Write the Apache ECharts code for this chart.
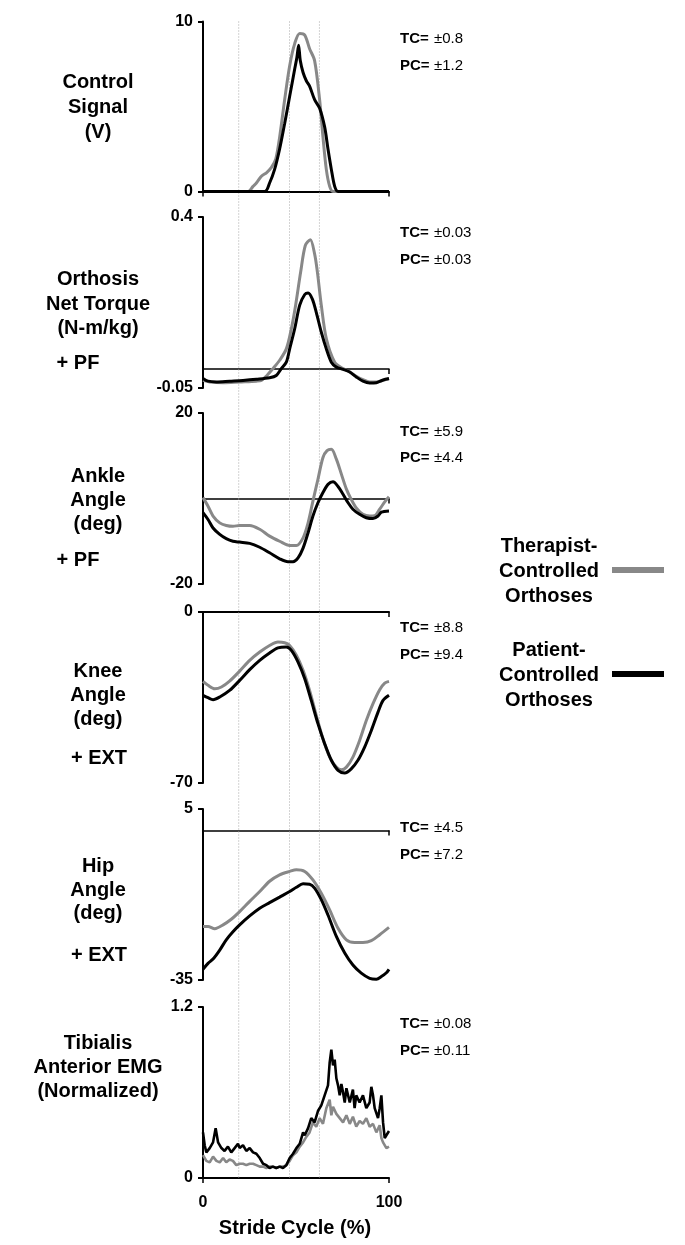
<!DOCTYPE html>
<html>
<head>
<meta charset="utf-8">
<script src="https://cdn.jsdelivr.net/npm/echarts@6/dist/echarts.min.js"></script>
<style>
html,body{margin:0;padding:0;background:#fff;}
#chart{width:685px;height:1245px;}
</style>
</head>
<body>
<div id="chart"></div>
<script>
// ---------- DATA (x = % stride cycle, y = value) ----------
const ctrlTC = [[0,0],[20,0],[24.2,0],[26.9,0.3],[28.7,0.5],[31.4,0.9],[34.1,1.1],[36.7,1.4],[39.1,1.9],[41.2,3.2],[43.9,5.4],[46.6,7.4],[49.3,8.7],[52.0,9.3],[54.7,9.2],[57.3,8.4],[60.0,7.7],[62.7,5.4],[64.5,3.2],[66.3,1.3],[68.1,0.3],[69.9,0],[100,0]];
const ctrlPC = [[0,0],[33.2,0],[35.8,0.5],[38.5,1.3],[41.2,2.5],[43.9,4.0],[46.6,5.6],[49.3,7.2],[50.5,7.9],[51.4,8.6],[52.3,7.7],[53.8,7.0],[55.6,6.5],[57.3,6.2],[60.0,5.4],[62.7,4.9],[65.4,3.8],[67.2,2.5],[69.0,1.3],[70.8,0.3],[72.6,0],[100,0]];

const torqTC = [[0,-0.03],[3.6,-0.034],[10.8,-0.036],[19.7,-0.034],[28.7,-0.032],[31.4,-0.03],[34.4,-0.017],[37.6,0.001],[41.2,0.023],[44.8,0.053],[47.5,0.106],[49.8,0.168],[52.5,0.255],[55.0,0.325],[57.7,0.34],[60.0,0.303],[61.5,0.255],[63.6,0.168],[66.3,0.08],[70.8,0.018],[75.3,0.001],[78.9,-0.008],[82.4,-0.019],[86.0,-0.028],[89.6,-0.034],[93.2,-0.034],[96.8,-0.03],[100,-0.026]];
const torqPC = [[0,-0.025],[2.7,-0.032],[7.2,-0.034],[14.3,-0.032],[21.5,-0.03],[28.7,-0.027],[35.8,-0.023],[39.4,-0.017],[42.1,0.001],[44.8,0.018],[46.6,0.053],[49.3,0.106],[52.0,0.168],[54.7,0.196],[56.5,0.2],[58.8,0.184],[60.9,0.149],[63.6,0.097],[66.3,0.053],[69.0,0.018],[71.7,0.005],[75.3,-0.001],[78.9,-0.008],[82.4,-0.021],[86.0,-0.032],[89.6,-0.037],[93.2,-0.036],[96.8,-0.029],[100,-0.025]];

const ankTC = [[0,0.2],[2.7,-1.8],[5.4,-4.1],[9.0,-5.7],[12.5,-6.3],[16.1,-6.5],[19.7,-6.3],[25.1,-6.3],[30.5,-7.2],[35.8,-8.8],[41.2,-10.0],[46.6,-11.0],[50.2,-11.0],[53.8,-9.2],[56.5,-5.7],[59.1,-0.6],[61.8,4.5],[64.5,9.6],[66.7,11.2],[69.0,11.5],[71.7,9.2],[74.4,5.7],[77.1,2.2],[79.7,-0.2],[82.4,-2.2],[86.0,-3.7],[89.6,-4.1],[92.3,-4.0],[95.0,-2.5],[97.7,-0.8],[100,0.4]];
const ankPC = [[0,-3.3],[2.7,-4.9],[5.4,-6.9],[9.0,-8.4],[12.5,-9.4],[16.1,-10.0],[19.7,-10.2],[25.1,-10.5],[30.5,-11.4],[35.8,-12.7],[41.2,-14.1],[45.7,-14.8],[48.4,-14.8],[51.1,-13.9],[53.8,-11.6],[56.5,-8.0],[59.1,-4.1],[61.8,-1.0],[64.5,1.4],[67.2,3.3],[69.9,3.9],[72.6,2.8],[75.3,1.0],[78.0,-1.0],[80.6,-2.5],[84.2,-3.7],[87.8,-4.5],[91.4,-4.7],[94.1,-4.1],[95.9,-3.2],[100,-2.9]];

const kneeTC = [[0,-28.4],[2.7,-30.0],[6.3,-31.4],[9.9,-30.7],[14.3,-28.3],[19.7,-24.2],[25.1,-19.8],[30.5,-16.4],[35.8,-13.7],[40.3,-12.3],[43.9,-12.6],[46.6,-13.7],[50.2,-17.7],[53.8,-23.9],[57.3,-32.1],[60.9,-42.3],[64.5,-51.9],[68.1,-59.4],[71.7,-63.5],[74.4,-64.6],[77.1,-63.5],[80.6,-59.4],[84.2,-52.6],[87.8,-44.4],[91.4,-37.5],[95.0,-31.8],[97.7,-29.1],[100,-28.4]];
const kneePC = [[0,-34.1],[2.7,-35.1],[5.4,-35.9],[9.0,-34.8],[14.3,-32.1],[19.7,-28.0],[25.1,-23.6],[30.5,-19.8],[35.8,-16.8],[40.3,-14.7],[44.8,-14.3],[47.5,-15.7],[51.1,-20.5],[54.7,-27.3],[58.2,-36.2],[61.8,-45.7],[65.4,-53.9],[69.0,-60.7],[72.6,-64.8],[76.2,-65.9],[79.7,-64.2],[83.3,-60.7],[86.9,-55.3],[90.5,-48.5],[94.1,-41.0],[96.8,-36.2],[100,-34.1]];

const hipTC = [[0,-22.5],[2.7,-22.5],[6.3,-23.0],[10.8,-22.1],[15.2,-20.8],[19.7,-19.0],[25.1,-16.6],[30.5,-14.3],[35.8,-11.9],[41.2,-10.4],[46.6,-9.6],[50.2,-9.2],[54.7,-9.6],[59.1,-11.6],[63.6,-14.7],[68.1,-18.6],[72.6,-22.9],[77.1,-25.6],[81.5,-26.2],[86.0,-26.2],[90.5,-25.8],[95.0,-24.4],[100,-22.7]];
const hipPC = [[0,-32.5],[2.7,-31.1],[5.4,-30.1],[9.0,-28.0],[12.5,-25.6],[16.1,-23.7],[19.7,-22.1],[25.1,-20.0],[30.5,-18.2],[35.8,-16.9],[41.2,-15.6],[46.6,-14.3],[50.2,-13.3],[53.8,-12.5],[57.3,-12.6],[60.0,-13.5],[63.6,-16.2],[67.2,-19.8],[71.7,-24.8],[76.2,-28.7],[80.6,-31.5],[85.1,-33.4],[89.6,-34.6],[93.2,-34.8],[95.9,-34.2],[98.6,-33.3],[100,-32.5]];

const emgTC = [[0,0.16],[1.8,0.12],[3.6,0.11],[5.4,0.15],[7.2,0.12],[9.0,0.11],[10.8,0.14],[12.5,0.11],[14.3,0.13],[16.1,0.12],[17.9,0.09],[19.7,0.10],[21.5,0.10],[23.3,0.09],[25.1,0.10],[26.9,0.10],[28.7,0.09],[30.5,0.08],[32.3,0.08],[34.1,0.07],[35.8,0.08],[37.6,0.08],[39.4,0.07],[41.2,0.08],[43.0,0.08],[44.8,0.09],[46.6,0.12],[48.4,0.16],[50.2,0.18],[52.0,0.22],[53.8,0.25],[55.6,0.29],[57.3,0.32],[59.1,0.39],[60.9,0.36],[62.7,0.42],[64.5,0.38],[66.3,0.49],[68.1,0.55],[69.0,0.44],[69.9,0.50],[71.7,0.45],[73.5,0.42],[75.3,0.39],[77.1,0.44],[78.9,0.38],[80.6,0.43],[82.4,0.36],[84.2,0.40],[86.0,0.38],[87.8,0.42],[89.6,0.36],[91.4,0.38],[93.2,0.32],[95.0,0.37],[95.9,0.28],[96.8,0.25],[98.6,0.21],[100,0.22]];
const emgPC = [[0,0.32],[0.9,0.23],[1.8,0.18],[3.6,0.21],[5.4,0.25],[6.8,0.35],[8.1,0.25],[9.9,0.21],[11.6,0.19],[13.4,0.22],[15.2,0.18],[17.0,0.21],[18.8,0.24],[19.7,0.21],[21.5,0.23],[23.3,0.19],[25.1,0.21],[26.9,0.18],[28.7,0.17],[30.5,0.14],[32.3,0.10],[34.1,0.09],[35.8,0.07],[37.6,0.08],[39.4,0.07],[41.2,0.08],[43.0,0.07],[44.8,0.09],[46.6,0.14],[48.4,0.17],[50.2,0.21],[52.0,0.24],[53.8,0.32],[54.7,0.30],[56.5,0.35],[58.2,0.42],[60.0,0.39],[61.8,0.47],[63.6,0.51],[65.4,0.58],[67.2,0.65],[68.1,0.81],[69.0,0.90],[69.9,0.79],[70.8,0.83],[71.7,0.70],[72.6,0.65],[73.5,0.58],[74.4,0.66],[75.3,0.60],[76.2,0.53],[77.1,0.63],[78.9,0.53],[80.6,0.62],[81.5,0.49],[82.4,0.58],[84.2,0.53],[86.0,0.58],[87.8,0.49],[89.6,0.53],[90.5,0.64],[91.4,0.58],[92.3,0.49],[94.1,0.42],[95.0,0.49],[95.9,0.58],[96.8,0.39],[97.7,0.28],[98.6,0.30],[100,0.33]];

const yMins = [0, -0.05, -20, -70, -35, 0];
const yMaxs = [10, 0.4, 20, 0, 5, 1.2];
const tcNotes = ['±0.8','±0.03','±5.9','±8.8','±4.5','±0.08'];
const pcNotes = ['±1.2','±0.03','±4.4','±9.4','±7.2','±0.11'];
const phaseLines = [19.2, 46.5, 62.6];
const titles = [
  ['Control','Signal','(V)'],
  ['Orthosis','Net Torque','(N-m/kg)','+ PF'],
  ['Ankle','Angle','(deg)','+ PF'],
  ['Knee','Angle','(deg)','+ EXT'],
  ['Hip','Angle','(deg)','+ EXT'],
  ['Tibialis','Anterior EMG','(Normalized)']
];
const xTicks = [0, 100];
const xTitle = 'Stride Cycle (%)';
const legendTC = ['Therapist-','Controlled','Orthoses'];
const legendPC = ['Patient-','Controlled','Orthoses'];

// ---------- LAYOUT ----------
const seriesTC = [ctrlTC, torqTC, ankTC, kneeTC, hipTC, emgTC];
const seriesPC = [ctrlPC, torqPC, ankPC, kneePC, hipPC, emgPC];
const gridTops = [21.5, 217, 413, 612, 809, 1007];
const gridHeights = [170, 171, 171, 171, 171, 171];
const GL = 203, GW = 186;
const FONT = '"Liberation Sans", Arial, Helvetica, sans-serif';
const GRAY = '#888888';
const titleY = [
  [82,107,132],
  [279,304,328,363],
  [476,500,524,560],
  [671,695,719,758],
  [866,890,913,955],
  [1043,1067,1091]
];
const titleX = [
  [98,98,98],
  [98,98,98,78],
  [98,98,98,78],
  [98,98,98,99],
  [98,98,98,99],
  [98,98,98]
];
const noteY = [[39,66],[233,260],[432,458],[628,655],[828,855],[1024,1051]];

const grid = [], xAxis = [], yAxis = [], series = [], graphic = [];
for (let i = 0; i < 6; i++) {
  grid.push({left: GL, width: GW, top: gridTops[i], height: gridHeights[i]});
  xAxis.push({
    type: 'value', gridIndex: i, min: 0, max: 100, interval: 100,
    axisLine: {show: true, onZero: true, lineStyle: {color: '#000', width: (i === 0 || i === 3 || i === 5) ? 2 : 1.5}},
    axisTick: {show: true, length: 5, lineStyle: {color: '#000', width: 1.5}},
    axisLabel: {show: i === 5, color: '#000', fontFamily: FONT, fontWeight: 'bold', fontSize: 16, margin: 17,
      customValues: xTicks},
    splitLine: {show: false}
  });
  yAxis.push({
    type: 'value', gridIndex: i, min: yMins[i], max: yMaxs[i],
    axisLine: {show: true, onZero: false, lineStyle: {color: '#000', width: 2}},
    axisTick: {show: true, length: 5, lineStyle: {color: '#000', width: 2}, customValues: [yMins[i], yMaxs[i]]},
    axisLabel: {show: true, color: '#000', fontFamily: FONT, fontWeight: 'bold', fontSize: 16, margin: 10,
      customValues: [yMins[i], yMaxs[i]]},
    splitLine: {show: false}
  });
  const smooth = i === 5 ? false : 0.3;
  const lw = i === 5 ? 2.6 : 3;
  series.push({type: 'line', xAxisIndex: i, yAxisIndex: i, data: seriesTC[i], symbol: 'none', smooth: smooth,
    lineStyle: {color: GRAY, width: lw}, z: 3, silent: true});
  series.push({type: 'line', xAxisIndex: i, yAxisIndex: i, data: seriesPC[i], symbol: 'none', smooth: smooth,
    lineStyle: {color: '#000', width: lw}, z: 4, silent: true});

  titles[i].forEach((t, k) => {
    graphic.push({type: 'text', x: titleX[i][k], y: titleY[i][k], silent: true,
      style: {text: t, font: 'bold 20px ' + FONT, fill: '#000', textAlign: 'center', textVerticalAlign: 'middle'}});
  });
  graphic.push({type: 'text', x: 400, y: noteY[i][0], silent: true,
    style: {text: 'TC=', font: 'bold 15px ' + FONT, fill: '#000', textAlign: 'left', textVerticalAlign: 'middle'}});
  graphic.push({type: 'text', x: 434, y: noteY[i][0], silent: true,
    style: {text: tcNotes[i], font: '15px ' + FONT, fill: '#000', textAlign: 'left', textVerticalAlign: 'middle'}});
  graphic.push({type: 'text', x: 400, y: noteY[i][1], silent: true,
    style: {text: 'PC=', font: 'bold 15px ' + FONT, fill: '#000', textAlign: 'left', textVerticalAlign: 'middle'}});
  graphic.push({type: 'text', x: 434, y: noteY[i][1], silent: true,
    style: {text: pcNotes[i], font: '15px ' + FONT, fill: '#000', textAlign: 'left', textVerticalAlign: 'middle'}});
}

// phase divider grid (spans all panels)
grid.push({left: GL, width: GW, top: 21.5, height: 1156});
xAxis.push({type: 'value', gridIndex: 6, min: 0, max: 100, show: false});
yAxis.push({type: 'value', gridIndex: 6, min: 0, max: 1, show: false});
phaseLines.forEach(p => {
  series.push({type: 'line', xAxisIndex: 6, yAxisIndex: 6, data: [[p, 0], [p, 1]], symbol: 'none', silent: true, z: 1,
    lineStyle: {color: '#a8a8a8', width: 1, type: [1, 2]}});
});

// x title
graphic.push({type: 'text', x: 295, y: 1228, silent: true,
  style: {text: xTitle, font: 'bold 20px ' + FONT, fill: '#000', textAlign: 'center', textVerticalAlign: 'middle'}});

// legend
const legTCY = [546, 571, 596], legPCY = [650, 675, 700];
legendTC.forEach((t, k) => graphic.push({type: 'text', x: 549, y: legTCY[k], silent: true,
  style: {text: t, font: 'bold 20px ' + FONT, fill: '#000', textAlign: 'center', textVerticalAlign: 'middle'}}));
legendPC.forEach((t, k) => graphic.push({type: 'text', x: 549, y: legPCY[k], silent: true,
  style: {text: t, font: 'bold 20px ' + FONT, fill: '#000', textAlign: 'center', textVerticalAlign: 'middle'}}));
graphic.push({type: 'line', silent: true, shape: {x1: 612, y1: 570, x2: 664, y2: 570}, style: {stroke: GRAY, lineWidth: 6}});
graphic.push({type: 'line', silent: true, shape: {x1: 612, y1: 674, x2: 664, y2: 674}, style: {stroke: '#000', lineWidth: 6}});

const chart = echarts.init(document.getElementById('chart'), null, {renderer: 'canvas'});
chart.setOption({
  animation: false,
  backgroundColor: '#fff',
  grid, xAxis, yAxis, series, graphic
});
</script>
</body>
</html>
